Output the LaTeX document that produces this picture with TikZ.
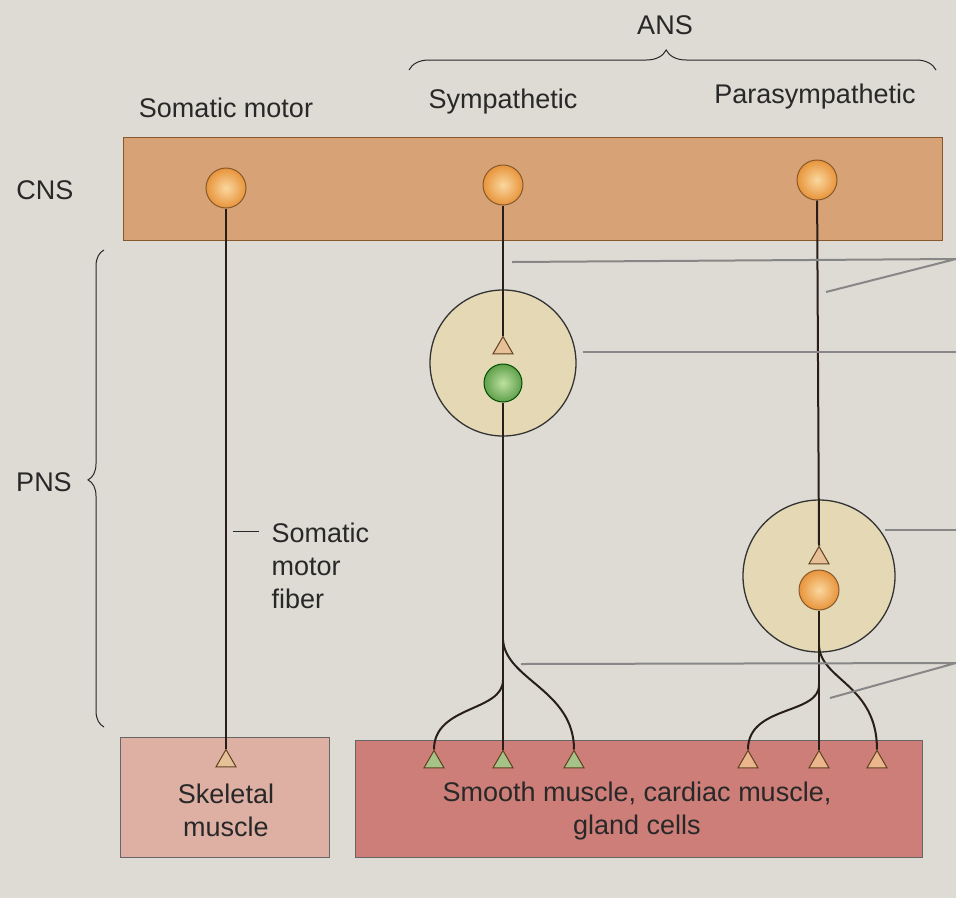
\documentclass[tikz,border=0pt]{standalone}
\usepackage{fontspec}
\setmainfont{Liberation Sans}
\usetikzlibrary{shapes.geometric,decorations.pathreplacing}

\definecolor{page}{RGB}{222,219,212}
\definecolor{cnsbar}{RGB}{214,162,118}
\definecolor{skelbox}{RGB}{221,176,163}
\definecolor{smoothbox}{RGB}{205,126,120}
\definecolor{gangfill}{RGB}{228,216,181}
\definecolor{nerve}{RGB}{40,30,25}
\definecolor{leader}{RGB}{135,135,135}
\definecolor{ink}{RGB}{40,40,40}
\definecolor{somaorange}{RGB}{232,148,58}
\definecolor{somalight}{RGB}{250,215,160}
\definecolor{cellgreen}{RGB}{95,160,75}
\definecolor{celllight}{RGB}{190,225,160}
\definecolor{termtan}{RGB}{230,192,150}
\definecolor{termgreen}{RGB}{165,195,135}
\definecolor{termorange}{RGB}{236,182,140}

\begin{document}
\begin{tikzpicture}[x=1pt, y=-1pt,
    every node/.style={font=\fontsize{27}{33}\selectfont, text=ink},
    soma/.style={circle, draw=brown!70!black, line width=1pt, inner color=somalight, outer color=somaorange, minimum size=40pt, inner sep=0pt},
    term/.style={regular polygon, regular polygon sides=3, draw=brown!50!black, line width=1pt, minimum size=23pt, inner sep=0pt},
    ganglion/.style={circle, draw=black!80, line width=1.3pt, fill=gangfill, inner sep=0pt},
    fiber/.style={draw=nerve, line width=2pt},
    lead/.style={draw=leader, line width=2pt}]
  \useasboundingbox[fill=page] (0,0) rectangle (956,898);
  % regions
  \node[draw=brown!70!black, fill=cnsbar, minimum width=819pt, minimum height=103pt, inner sep=0pt] (CNS Bar) at (532.5,188.5) {};
  \node[draw=black!60, fill=skelbox, minimum width=209pt, minimum height=120pt, inner sep=0pt] (Skeletal Box) at (224.5,797) {};
  \node[draw=black!60, fill=smoothbox, minimum width=567pt, minimum height=117pt, inner sep=0pt] (Smooth Box) at (638.5,798.5) {};
  \node[align=center] at (226,810) {Skeletal\\muscle};
  \node[align=center] at (637,811) {Smooth muscle, cardiac muscle,\\gland cells};
  % headings
  \node (ANS) at (665,25) {ANS};
  \node (Somatic Head) at (226,108) {Somatic motor};
  \node (Sym Head) at (503,102) {Sympathetic};
  \node (Para Head) at (815,97) {Parasympathetic};
  \node (CNS) at (45,190) {CNS};
  \node (PNS) at (44,482) {PNS};
  \draw[ink, line width=1pt, decorate, decoration={brace, amplitude=20pt, aspect=0.488}] (409,70) -- (936,70);
  \draw[ink, line width=1pt, decorate, decoration={brace, amplitude=16pt, aspect=0.518}] (104,727) -- (104,250);
  % ganglia
  \node[ganglion, minimum size=146pt] (Sym Ganglion) at (503,363) {};
  \node[ganglion, minimum size=152pt] (Para Ganglion) at (819,576) {};
  % cell bodies
  \node[soma] (Somatic Soma) at (226,188) {};
  \node[soma] (Sym Soma) at (503,185) {};
  \node[soma] (Para Soma) at (817,180) {};
  \node[soma, draw=green!30!black, inner color=celllight, outer color=cellgreen, minimum size=38pt] (Sym Cell) at (503,383) {};
  \node[soma] (Para Cell) at (819,590) {};
  % terminals
  \node[term, fill=termtan] (Sym Gang Term) at (503,348) {};
  \node[term, fill=termtan] (Para Gang Term) at (819,558) {};
  \node[term, fill=termtan] (Somatic Term) at (226,761) {};
  \node[term, fill=termgreen] (Sym Left) at (434,762) {};
  \node[term, fill=termgreen] (Sym Mid) at (503,762) {};
  \node[term, fill=termgreen] (Sym Right) at (574,762) {};
  \node[term, fill=termorange] (Para Left) at (748,762) {};
  \node[term, fill=termorange] (Para Mid) at (819,762) {};
  \node[term, fill=termorange] (Para Right) at (877,762) {};
  % fibers
  \draw[fiber] (Somatic Soma) -- (Somatic Term.corner 1);
  \draw[fiber] (Sym Soma) -- (Sym Gang Term.corner 1);
  \draw[fiber] (Para Soma) -- (Para Gang Term.corner 1);
  \draw[fiber] (Sym Cell) -- (Sym Mid.corner 1);
  \draw[fiber] (Para Cell) -- (Para Mid.corner 1);
  \coordinate (Sym Fork R) at (503,640);
  \coordinate (Sym Fork L) at (503,680);
  \coordinate (Para Fork R) at (819,646);
  \coordinate (Para Fork L) at (819,685);
  \draw[fiber] (Sym Fork R) .. controls (506,680) and (574,690) .. (Sym Right.corner 1);
  \draw[fiber] (Sym Fork L) .. controls (503,712) and (434,705) .. (Sym Left.corner 1);
  \draw[fiber] (Para Fork R) .. controls (821,680) and (877,685) .. (Para Right.corner 1);
  \draw[fiber] (Para Fork L) .. controls (819,715) and (748,705) .. (Para Left.corner 1);
  % somatic fiber label
  \node[align=left, anchor=west] (Fiber Label) at (268,566) {Somatic\\motor\\fiber};
  \coordinate (Fiber Tick) at (233,531);
  \draw[ink, line width=1pt] (Fiber Tick) -- ++(26,0);
  % leader lines to the page edge
  \coordinate (Pre Tip) at (512,262);
  \coordinate (Pre Edge) at (956,259);
  \coordinate (Pre Tip B) at (826,292);
  \coordinate (Syn Tip) at (583,352);
  \coordinate (Syn Edge) at (956,352);
  \coordinate (Gang Tip) at (885,530);
  \coordinate (Gang Edge) at (956,530);
  \coordinate (Post Tip) at (521,664);
  \coordinate (Post Edge) at (956,663);
  \coordinate (Post Tip B) at (830,698);
  \draw[lead] (Pre Tip) -- (Pre Edge) -- (Pre Tip B);
  \draw[lead] (Syn Tip) -- (Syn Edge);
  \draw[lead] (Gang Tip) -- (Gang Edge);
  \draw[lead] (Post Tip) -- (Post Edge) -- (Post Tip B);
\end{tikzpicture}
\end{document}
